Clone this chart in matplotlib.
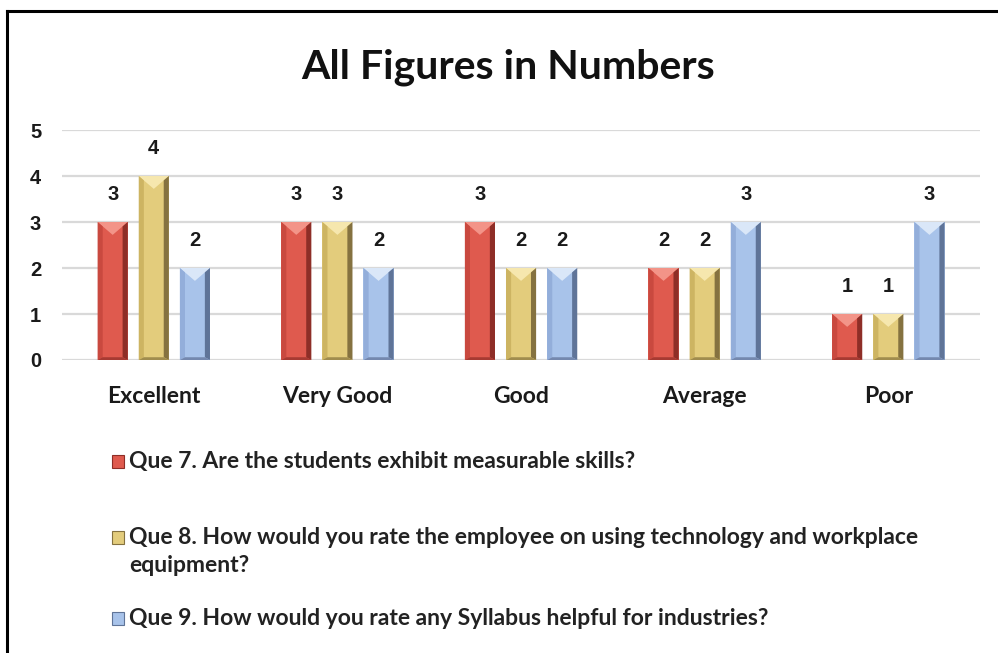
#!/usr/bin/env python3

"""bar chart of survey answers, all figures in numbers"""

import matplotlib
matplotlib.use("Agg")
import matplotlib.pyplot as plt
from matplotlib.patches import Polygon, Rectangle
from matplotlib.lines import Line2D
import numpy

categories = ["Excellent", "Very Good", "Good", "Average", "Poor"]
que7 = [3, 3, 3, 2, 1]
que8 = [4, 3, 2, 2, 1]
que9 = [2, 2, 2, 3, 3]
series_labels = [
    "Que 7. Are the students exhibit measurable skills?",
    "Que 8. How would you rate the employee on using technology and workplace\nequipment?",
    "Que 9. How would you rate any Syllabus helpful for industries?",
]
y_ticks = [0, 1, 2, 3, 4, 5]

# body, top bevel, left bevel, right bevel, bottom bevel
PALETTE = [
    ("#DF5A4E", "#F39488", "#C9493F", "#8E2E27", "#A63A32"),
    ("#E3CC7C", "#F6E7AE", "#CDB462", "#857240", "#A08C4E"),
    ("#A8C3EA", "#DAE7F8", "#93AEDA", "#5F7498", "#7488AE"),
]

TEXT_FONT = ["Lato", "DejaVu Sans"]
NUM_FONT = ["Liberation Sans", "DejaVu Sans"]


def bevel(ax, bar, colors):
    """Draw a bevelled look on top of one bar"""
    x, w, h = bar.get_x(), bar.get_width(), bar.get_height()
    t = 0.28  # depth of top chevron, data units
    s = 0.17 * w
    b = 0.06
    _, top, left, right, bottom = colors
    polys = [
        ([(x, h), (x + w, h), (x + w / 2, h - t)], top),
        ([(x, 0), (x + s, b), (x + s, h - 2 * t * s / w), (x, h)], left),
        ([(x + w, 0), (x + w - s, b), (x + w - s, h - 2 * t * s / w), (x + w, h)], right),
        ([(x, 0), (x + w, 0), (x + w - s, b), (x + s, b)], bottom),
    ]
    for pts, col in polys:
        ax.add_patch(Polygon(pts, closed=True, facecolor=col, edgecolor="none", zorder=3))


def plot_chart():
    """Build the figure"""
    fig = plt.figure(figsize=(9.98, 6.53), dpi=100)
    ax = fig.add_axes([0.0621, 0.4487, 0.92, 0.3522])

    x = numpy.arange(len(categories))
    width = 0.164
    offset = 0.224
    for i, (values, colors) in enumerate(zip([que7, que8, que9], PALETTE)):
        bars = ax.bar(x + (i - 1) * offset, values, width, color=colors[0], zorder=2)
        for bar in bars:
            bevel(ax, bar, colors)
        for xi, v in zip(x + (i - 1) * offset, values):
            ax.annotate(str(v), (xi, v), xytext=(0, 13), textcoords="offset points",
                        ha="center", va="bottom", fontsize=14.5, fontweight="bold",
                        family=NUM_FONT, color="#1a1a1a")

    ax.set_xlim(-0.5, len(categories) - 0.5)
    ax.set_ylim(0, 5)
    ax.set_yticks(y_ticks)
    ax.set_yticklabels([str(t) for t in y_ticks], family=NUM_FONT, fontweight="bold",
                       fontsize=14.5, color="#1a1a1a")
    ax.set_xticks(x)
    ax.set_xticklabels(categories, family=TEXT_FONT, fontweight="bold", fontsize=16.5,
                       color="#1a1a1a")
    ax.tick_params(axis="y", length=0, pad=15)
    ax.tick_params(axis="x", length=0, pad=19)
    ax.grid(axis="y", color="#D9D9D9", linewidth=1.6, zorder=0)
    ax.set_axisbelow(True)
    for spine in ax.spines.values():
        spine.set_visible(False)

    fig.text(0.509, 0.897, "All Figures in Numbers", ha="center", va="center",
             family=TEXT_FONT, fontweight="bold", fontsize=29.5, color="#111111")

    # legend below the plot
    legend_y = [461, 537, 618]
    for label, colors, ly in zip(series_labels, PALETTE, legend_y):
        fy = 1 - ly / 653
        fig.add_artist(Rectangle((112 / 998, fy - 6.5 / 653), 12 / 998, 13 / 653,
                                 facecolor=colors[0], edgecolor=colors[3], linewidth=0.8,
                                 transform=fig.transFigure))
        fig.text(129 / 998, fy + 10 / 653, label, ha="left", va="top", family=TEXT_FONT,
                 fontweight="bold", fontsize=16.5, color="#222222", linespacing=1.4)

    # frame: left and top edges
    fig.add_artist(Line2D([7 / 998, 7 / 998], [0.003, 1 - 11 / 653], color="black",
                          linewidth=2.2, transform=fig.transFigure))
    fig.add_artist(Line2D([7 / 998, 1.0], [1 - 11 / 653, 1 - 11 / 653], color="black",
                          linewidth=2.2, transform=fig.transFigure))
    return fig


def main():
    """Main function"""
    fig = plot_chart()
    fig.savefig("out.png", dpi=100)


if __name__ == "__main__":
    main()
